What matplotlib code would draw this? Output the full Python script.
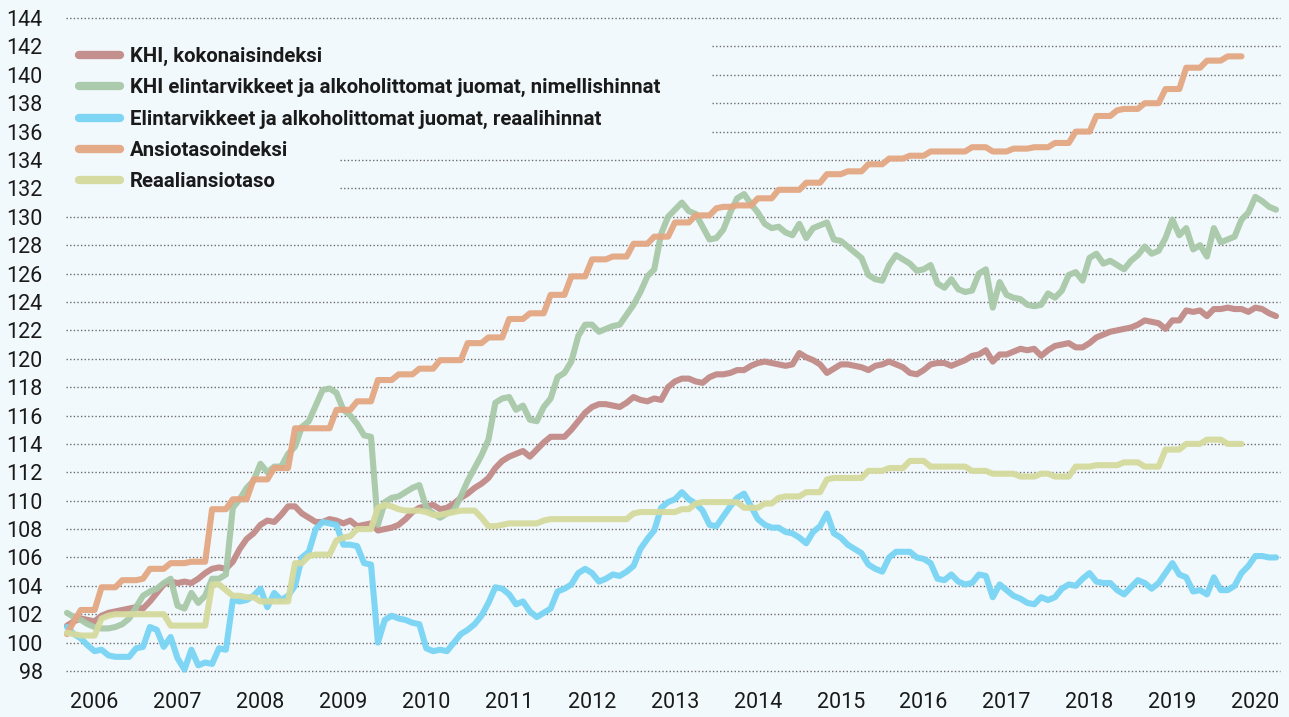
import matplotlib
matplotlib.use("Agg")
import matplotlib.pyplot as plt

plt.rcParams['font.family'] = ['Roboto', 'DejaVu Sans']

# monthly index values, first point = Sep 2005
khi = [
    101.2, 101.5, 101.7, 101.6, 101.5, 101.9, 102.1, 102.2, 102.3, 102.4, 102.5, 102.4,
    102.9, 103.5, 104.1, 104.3, 104.2, 104.3, 104.2, 104.5, 104.9, 105.2, 105.3, 105.2,
    105.7, 106.6, 107.3, 107.7, 108.3, 108.6, 108.5, 109.0, 109.6, 109.6, 109.1, 108.8,
    108.5, 108.5, 108.7, 108.6, 108.4, 108.6, 108.2, 108.3, 108.4, 107.9, 108.0, 108.1,
    108.3, 108.7, 109.2, 109.5, 109.6, 109.7, 109.4, 109.5, 109.8, 110.2, 110.5, 110.9,
    111.2, 111.6, 112.3, 112.8, 113.1, 113.3, 113.5, 113.1, 113.6, 114.1, 114.5, 114.5,
    114.5, 115.0, 115.6, 116.2, 116.6, 116.8, 116.8, 116.7, 116.6, 116.9, 117.3, 117.1,
    117.0, 117.2, 117.1, 118.0, 118.4, 118.6, 118.6, 118.4, 118.3, 118.7, 118.9, 118.9,
    119.0, 119.2, 119.2, 119.5, 119.7, 119.8, 119.7, 119.6, 119.5, 119.6, 120.4, 120.1,
    119.9, 119.6, 119.0, 119.3, 119.6, 119.6, 119.5, 119.4, 119.2, 119.5, 119.6, 119.8,
    119.6, 119.4, 119.0, 118.9, 119.2, 119.6, 119.7, 119.7, 119.5, 119.7, 119.9, 120.2,
    120.3, 120.6, 119.8, 120.3, 120.3, 120.5, 120.7, 120.6, 120.7, 120.2, 120.6, 120.9,
    121.0, 121.1, 120.8, 120.8, 121.1, 121.5, 121.7, 121.9, 122.0, 122.1, 122.2, 122.4,
    122.7, 122.6, 122.5, 122.1, 122.7, 122.7, 123.4, 123.3, 123.4, 123.0, 123.5, 123.5,
    123.6, 123.5, 123.5, 123.3, 123.6, 123.5, 123.2, 123.0,
]

ruoka_nim = [
    102.1, 101.8, 101.6, 101.3, 101.1, 101.0, 101.0, 101.1, 101.3, 101.7, 102.5, 103.3,
    103.6, 103.8, 104.2, 104.5, 102.6, 102.4, 103.5, 102.8, 103.3, 104.5, 104.5, 104.8,
    109.5, 110.1, 110.9, 111.4, 112.6, 112.0, 112.4, 112.4, 113.3, 113.8, 115.2, 115.6,
    116.7, 117.8, 117.9, 117.6, 116.4, 116.0, 115.4, 114.6, 114.5, 108.3, 109.9, 110.2,
    110.3, 110.6, 110.9, 111.1, 109.5, 109.1, 108.8, 109.1, 109.3, 110.3, 111.4, 112.3,
    113.2, 114.3, 116.9, 117.2, 117.3, 116.4, 116.7, 115.7, 115.6, 116.6, 117.2, 118.7,
    119.0, 119.8, 121.6, 122.4, 122.4, 121.9, 122.1, 122.3, 122.4, 123.1, 123.8, 124.7,
    125.8, 126.3, 128.8, 130.0, 130.5, 131.0, 130.4, 130.2, 129.3, 128.4, 128.5, 129.1,
    130.3, 131.3, 131.6, 130.9, 130.3, 129.5, 129.2, 129.3, 128.9, 128.7, 129.5, 128.5,
    129.2, 129.4, 129.6, 128.4, 128.3, 127.9, 127.5, 127.1, 125.9, 125.6, 125.5, 126.6,
    127.3, 127.0, 126.7, 126.2, 126.3, 126.6, 125.3, 125.0, 125.6, 124.9, 124.7, 124.8,
    126.0, 126.3, 123.6, 125.4, 124.5, 124.3, 124.2, 123.8, 123.7, 123.8, 124.6, 124.3,
    124.8, 125.9, 126.1, 125.5, 127.1, 127.4, 126.7, 126.9, 126.6, 126.3, 126.9, 127.3,
    127.9, 127.4, 127.6, 128.5, 129.8, 128.7, 129.2, 127.7, 128.0, 127.2, 129.2, 128.2,
    128.4, 128.6, 129.8, 130.3, 131.4, 131.1, 130.7, 130.5,
]

ruoka_reaali = [
    101.1, 100.6, 100.3, 99.8, 99.4, 99.5, 99.1, 99.0, 99.0, 99.0, 99.6, 99.7,
    101.1, 100.9, 99.7, 100.4, 98.9, 98.1, 99.5, 98.4, 98.6, 98.5, 99.6, 99.5,
    103.0, 102.9, 103.0, 103.3, 103.8, 102.5, 103.5, 103.0, 103.3, 104.0, 106.0, 106.4,
    108.0, 108.5, 108.4, 108.3, 106.9, 106.9, 106.8, 105.6, 105.5, 100.0, 101.6, 101.9,
    101.7, 101.6, 101.4, 101.3, 99.6, 99.4, 99.5, 99.4, 100.0, 100.6, 100.9, 101.3,
    101.9, 102.8, 103.9, 103.8, 103.4, 102.7, 102.9, 102.2, 101.8, 102.1, 102.4, 103.6,
    103.8, 104.1, 104.9, 105.2, 104.9, 104.3, 104.5, 104.8, 104.7, 105.0, 105.4, 106.6,
    107.3, 107.9, 109.5, 109.9, 110.1, 110.6, 110.1, 109.8, 109.3, 108.3, 108.2, 108.9,
    109.6, 110.2, 110.5, 109.6, 108.7, 108.3, 108.1, 108.1, 107.8, 107.7, 107.4, 107.0,
    107.8, 108.2, 109.1, 107.7, 107.4, 106.9, 106.6, 106.3, 105.5, 105.2, 105.0, 106.0,
    106.4, 106.4, 106.4, 106.0, 105.9, 105.6, 104.5, 104.4, 104.8, 104.3, 104.1, 104.2,
    104.8, 104.7, 103.2, 104.1, 103.7, 103.3, 103.1, 102.8, 102.7, 103.2, 103.0, 103.2,
    103.8, 104.1, 104.0, 104.5, 104.9, 104.3, 104.2, 104.2, 103.7, 103.4, 103.9, 104.4,
    104.2, 103.8, 104.2, 104.9, 105.6, 104.8, 104.6, 103.6, 103.7, 103.4, 104.6, 103.7,
    103.7, 104.0, 104.9, 105.4, 106.1, 106.1, 106.0, 106.0,
]

ansiotaso = [
    100.6, 101.5, 102.3, 102.3, 102.3, 103.9, 103.9, 103.9, 104.4, 104.4, 104.4, 104.5,
    105.2, 105.2, 105.2, 105.6, 105.6, 105.6, 105.7, 105.7, 105.7, 109.4, 109.4, 109.4,
    110.1, 110.1, 110.1, 111.5, 111.5, 111.5, 112.3, 112.3, 112.3, 115.1, 115.1, 115.1,
    115.1, 115.1, 115.1, 116.4, 116.4, 116.4, 117.0, 117.0, 117.0, 118.5, 118.5, 118.5,
    118.9, 118.9, 118.9, 119.3, 119.3, 119.3, 119.9, 119.9, 119.9, 119.9, 121.1, 121.1,
    121.1, 121.5, 121.5, 121.5, 122.8, 122.8, 122.8, 123.2, 123.2, 123.2, 124.5, 124.5,
    124.5, 125.8, 125.8, 125.8, 127.0, 127.0, 127.0, 127.2, 127.2, 127.2, 128.1, 128.1,
    128.1, 128.6, 128.6, 128.6, 129.6, 129.6, 129.6, 130.1, 130.1, 130.1, 130.6, 130.7,
    130.7, 130.8, 130.8, 130.8, 131.3, 131.3, 131.3, 131.9, 131.9, 131.9, 131.9, 132.4,
    132.4, 132.4, 133.0, 133.0, 133.0, 133.2, 133.2, 133.2, 133.7, 133.7, 133.7, 134.1,
    134.1, 134.1, 134.3, 134.3, 134.3, 134.6, 134.6, 134.6, 134.6, 134.6, 134.6, 134.9,
    134.9, 134.9, 134.6, 134.6, 134.6, 134.8, 134.8, 134.8, 134.9, 134.9, 134.9, 135.2,
    135.2, 135.2, 136.0, 136.0, 136.0, 137.1, 137.1, 137.1, 137.5, 137.6, 137.6, 137.6,
    138.0, 138.0, 138.0, 139.0, 139.0, 139.0, 140.5, 140.5, 140.5, 141.0, 141.0, 141.0,
    141.3, 141.3, 141.3,
]

reaaliansio = [
    100.7, 100.6, 100.5, 100.5, 100.5, 101.7, 101.9, 102.0, 102.0, 102.0, 102.0, 102.0,
    102.0, 102.0, 102.0, 101.2, 101.2, 101.2, 101.2, 101.2, 101.2, 104.1, 104.1, 103.7,
    103.3, 103.3, 103.2, 103.2, 102.9, 102.9, 102.9, 102.9, 102.9, 105.6, 105.6, 106.1,
    106.2, 106.2, 106.2, 107.2, 107.4, 107.5, 108.0, 108.0, 108.0, 109.5, 109.7, 109.6,
    109.4, 109.3, 109.3, 109.3, 109.2, 109.0, 109.0, 109.1, 109.2, 109.3, 109.3, 109.3,
    108.8, 108.2, 108.2, 108.3, 108.4, 108.4, 108.4, 108.4, 108.4, 108.6, 108.7, 108.7,
    108.7, 108.7, 108.7, 108.7, 108.7, 108.7, 108.7, 108.7, 108.7, 108.7, 109.1, 109.2,
    109.2, 109.2, 109.2, 109.2, 109.2, 109.4, 109.4, 109.8, 109.9, 109.9, 109.9, 109.9,
    109.9, 109.9, 109.5, 109.5, 109.5, 109.8, 109.8, 110.2, 110.3, 110.3, 110.3, 110.6,
    110.6, 110.6, 111.5, 111.6, 111.6, 111.6, 111.6, 111.6, 112.1, 112.1, 112.1, 112.3,
    112.3, 112.3, 112.8, 112.8, 112.8, 112.4, 112.4, 112.4, 112.4, 112.4, 112.4, 112.1,
    112.1, 112.1, 111.9, 111.9, 111.9, 111.9, 111.7, 111.7, 111.7, 111.9, 111.9, 111.7,
    111.7, 111.7, 112.4, 112.4, 112.4, 112.5, 112.5, 112.5, 112.5, 112.7, 112.7, 112.7,
    112.4, 112.4, 112.4, 113.6, 113.6, 113.6, 114.0, 114.0, 114.0, 114.3, 114.3, 114.3,
    114.0, 114.0, 114.0,
]

years = list(range(2006, 2021))
labels = [
    "KHI, kokonaisindeksi",
    "KHI elintarvikkeet ja alkoholittomat juomat, nimellishinnat",
    "Elintarvikkeet ja alkoholittomat juomat, reaalihinnat",
    "Ansiotasoindeksi",
    "Reaaliansiotaso",
]
colors = ["#c28b87", "#a8c8a8", "#79d5f4", "#e4a783", "#d5da9d"]
bg = "#f2f9fd"


def main():
    fig = plt.figure(figsize=(12.89, 7.17), dpi=100, facecolor=bg)
    ax = fig.add_axes([0.0493, 0.0562, 0.946, 0.9226], facecolor=bg)

    series = [khi, ruoka_nim, ruoka_reaali, ansiotaso, reaaliansio]
    for data, col, lab in zip(series, colors, labels):
        ax.plot(range(len(data)), data, color=col, lw=4.4, label=lab,
                solid_capstyle="round", solid_joinstyle="round", alpha=0.95,
                zorder=3)

    ax.set_xlim(-0.5, 176)
    ax.set_ylim(97.6, 144.2)

    # dotted grid, broken where the legend sits
    yt = list(range(98, 145, 2))
    for y in yt:
        if 136 <= y <= 142:
            x0 = 93.3
        elif y in (132, 134):
            x0 = 39.5
        else:
            x0 = -0.2
        ax.hlines(y, x0, 175.6, colors="#6b6b6b", lw=1.0,
                  linestyles=(0, (1, 1.6)), zorder=1)

    ax.set_yticks(yt)
    ax.set_yticklabels([str(v) for v in yt])
    ax.set_xticks([4 + 12 * k for k in range(len(years))])
    ax.set_xticklabels([str(y) for y in years])
    ax.tick_params(axis="both", length=0, labelsize=15.5, colors="#1a1a1a")
    ax.tick_params(axis="y", pad=15)
    ax.tick_params(axis="x", pad=11)
    for s in ax.spines.values():
        s.set_visible(False)

    leg = ax.legend(loc="upper left", bbox_to_anchor=(0.0125, 0.952),
                    frameon=False, fontsize=14.7, handlelength=2.0,
                    handletextpad=0.5, labelspacing=0.6, borderpad=0,
                    borderaxespad=0)
    for t in leg.get_texts():
        t.set_fontweight("bold")
        t.set_color("#1a1a1a")
    for h in leg.get_lines():
        h.set_linewidth(6)
        h.set_solid_capstyle("round")

    fig.savefig("out.png", dpi=100, facecolor=bg)


if __name__ == "__main__":
    main()
